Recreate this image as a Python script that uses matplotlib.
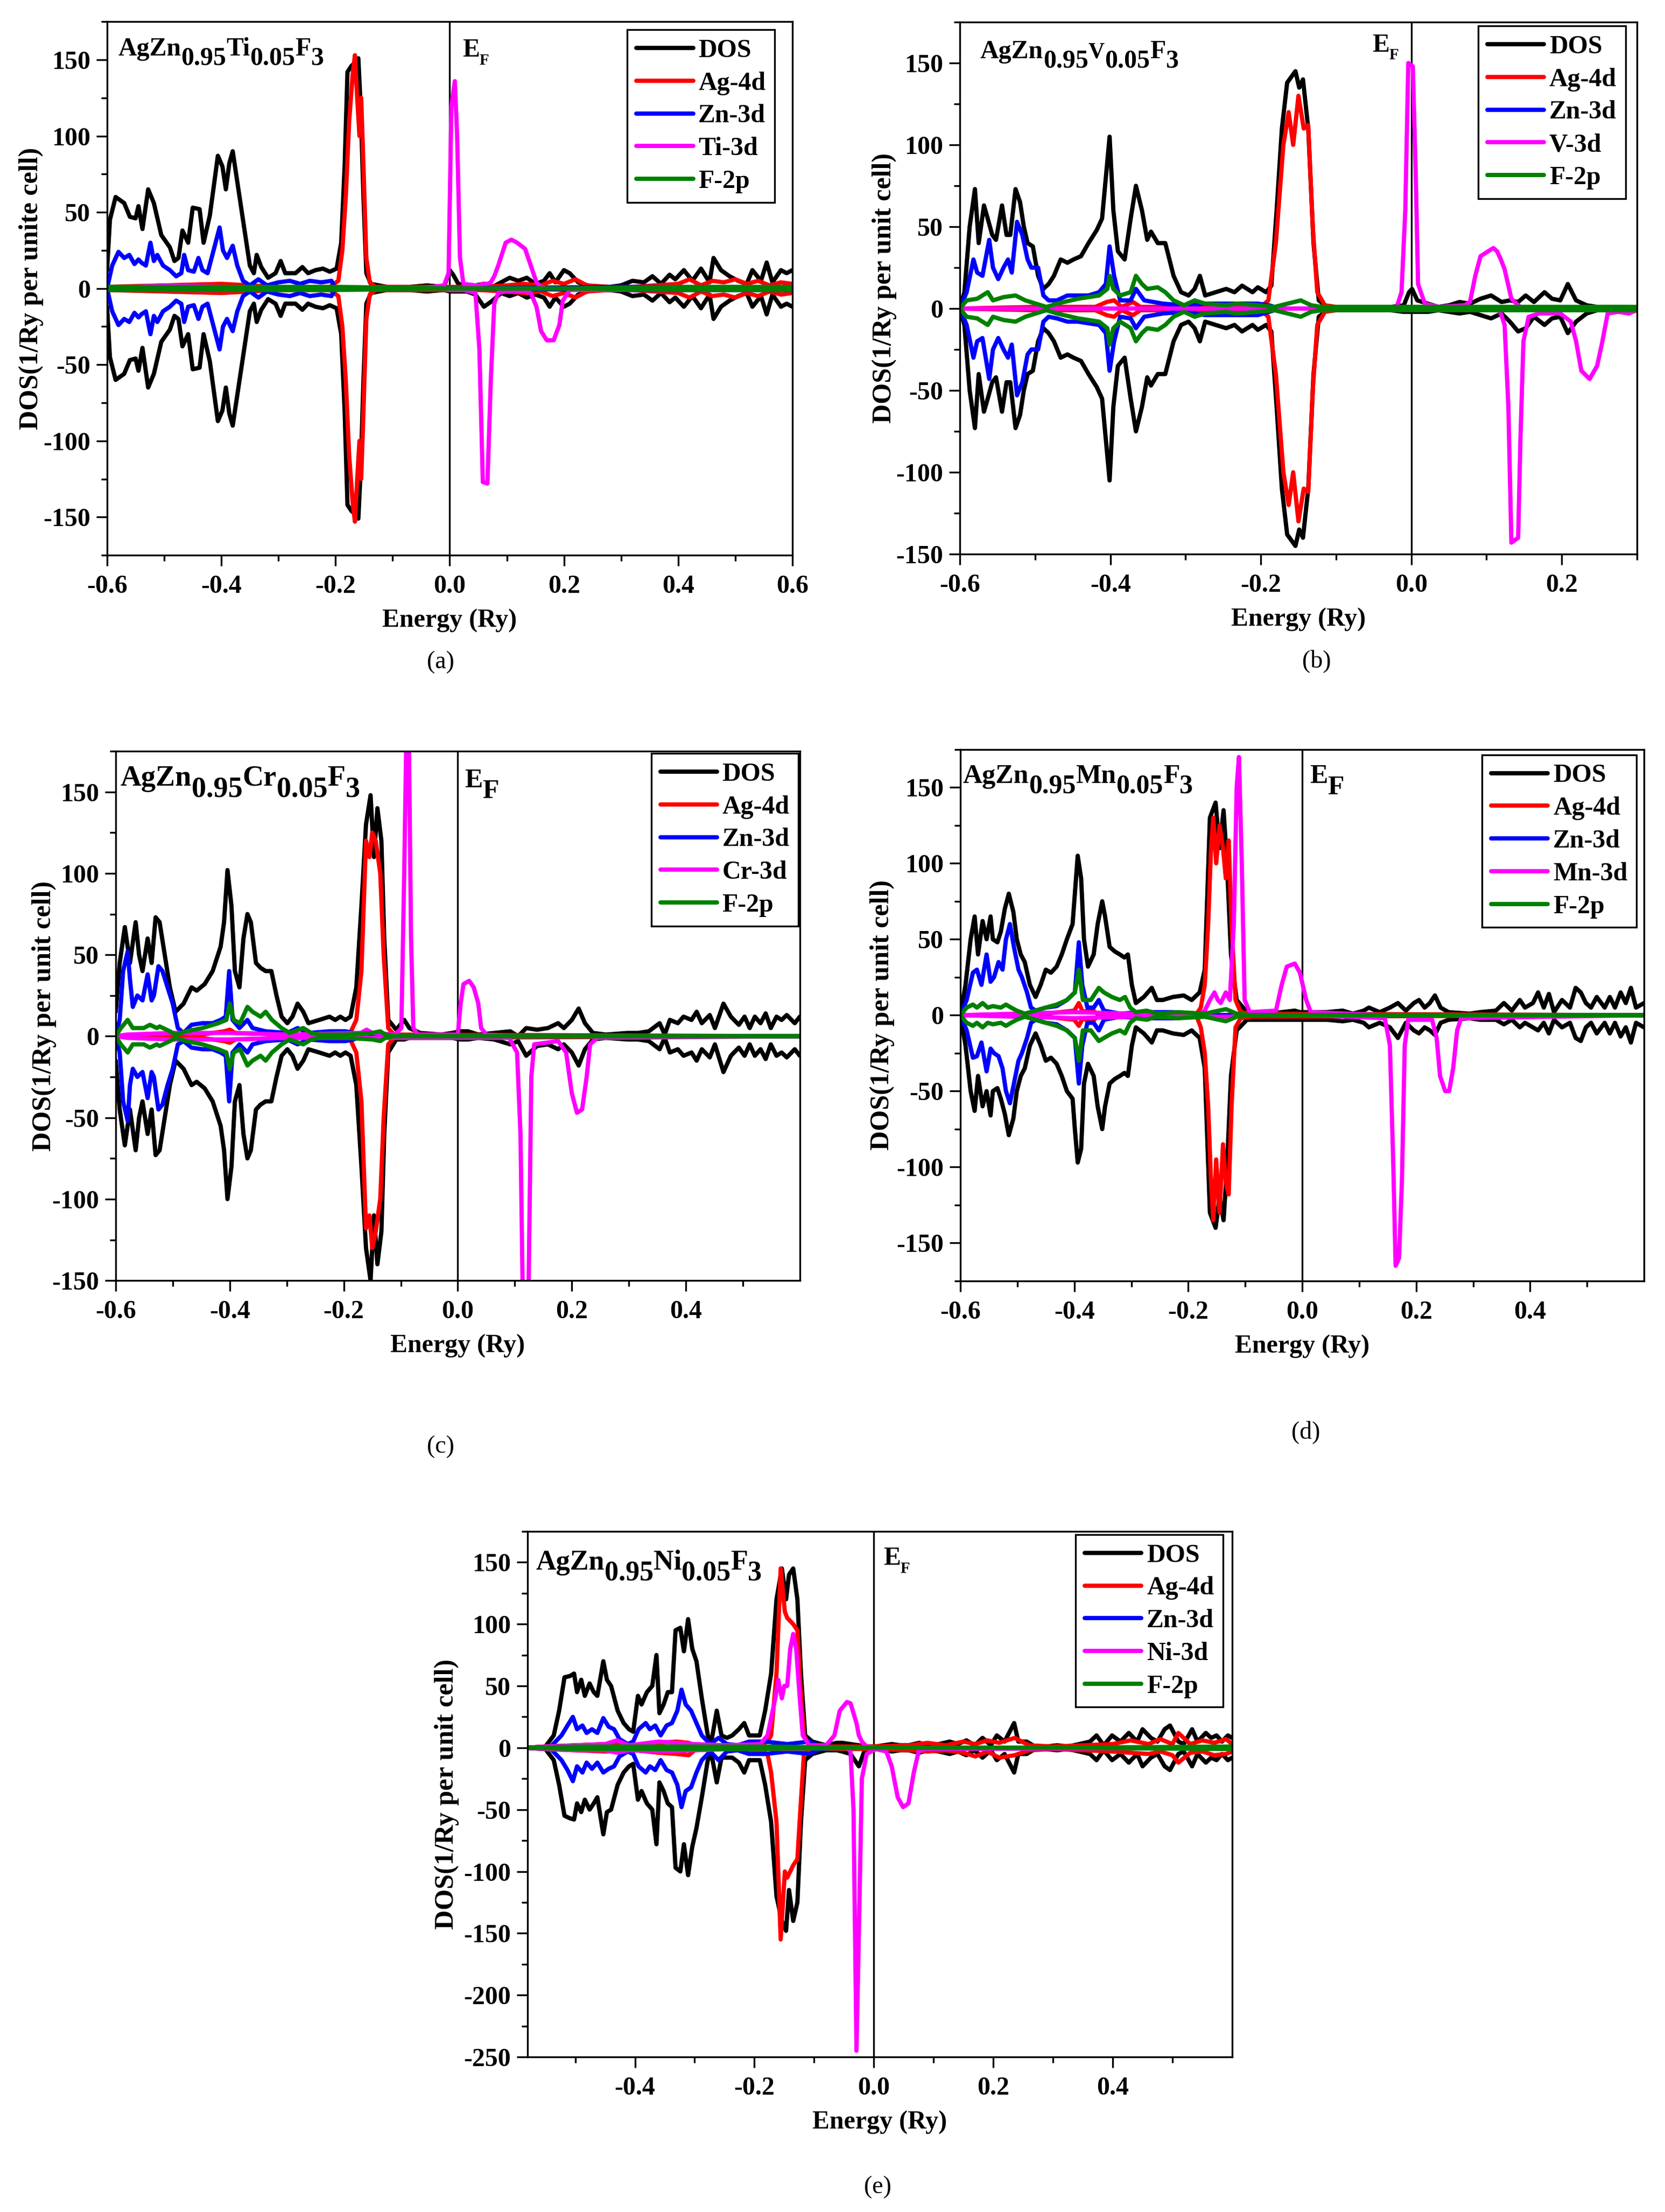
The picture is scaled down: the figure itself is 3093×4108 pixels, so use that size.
import matplotlib
matplotlib.use("Agg")
import matplotlib.pyplot as plt
from matplotlib.ticker import FixedLocator, MultipleLocator, FormatStrFormatter

plt.rcParams["font.family"] = "Liberation Serif"
plt.rcParams["font.weight"] = "bold"
plt.rcParams["axes.labelweight"] = "bold"
plt.rcParams["axes.unicode_minus"] = False

# every curve: (energy in Ry, spin-up DOS, spin-down DOS)

# ---------------- (a) AgZn0.95Ti0.05F3
a_dos = [(-0.600, 12, -12), (-0.595, 45, -45), (-0.585, 60, -60), (-0.570, 56, -56), (-0.560, 47, -47),
         (-0.550, 46, -46), (-0.545, 54, -54), (-0.538, 39, -39), (-0.528, 65, -65), (-0.518, 56, -56),
         (-0.505, 35, -35), (-0.490, 27, -27), (-0.482, 18, -18), (-0.475, 20, -20), (-0.468, 38, -38),
         (-0.458, 30, -30), (-0.450, 53, -53), (-0.438, 52, -52), (-0.431, 30, -30), (-0.420, 48, -48),
         (-0.406, 87, -87), (-0.398, 80, -80), (-0.392, 65, -65), (-0.386, 82, -82), (-0.380, 90, -90),
         (-0.370, 65, -65), (-0.360, 40, -40), (-0.350, 15, -15), (-0.343, 10, -10), (-0.338, 22, -22),
         (-0.330, 14, -14), (-0.318, 7, -7), (-0.305, 10, -10), (-0.296, 18, -18), (-0.288, 10, -10),
         (-0.270, 10, -10), (-0.258, 14, -14), (-0.248, 10, -10), (-0.235, 12, -12), (-0.222, 13, -13),
         (-0.210, 11, -11), (-0.198, 13, -13), (-0.190, 30, -30), (-0.184, 80, -80), (-0.179, 142, -142),
         (-0.172, 146, -146), (-0.166, 148, -148), (-0.160, 151, -151), (-0.156, 120, -120), (-0.151, 60, -60),
         (-0.146, 10, -10), (-0.138, 3, -3), (-0.110, 1, -1), (-0.070, 1, -1), (-0.040, 2, -2),
         (-0.010, 1, -1), (0.000, 12, -2), (0.006, 9, -2), (0.015, 3, -2), (0.030, 2, -2),
         (0.045, 2, -4), (0.060, 3, -12), (0.075, 1, -8), (0.090, 4, -3), (0.105, 7, -5),
         (0.120, 5, -3), (0.135, 7, -6), (0.150, 3, -4), (0.165, 5, -6), (0.175, 10, -12),
         (0.185, 4, -6), (0.200, 12, -12), (0.210, 10, -10), (0.225, 4, -4), (0.250, 1, -1),
         (0.280, 1, -1), (0.300, 2, -2), (0.320, 5, -5), (0.340, 4, -4), (0.355, 8, -8),
         (0.370, 3, -3), (0.385, 9, -9), (0.395, 6, -6), (0.410, 12, -12), (0.425, 5, -5),
         (0.440, 13, -13), (0.455, 4, -4), (0.462, 20, -20), (0.475, 12, -12), (0.490, 8, -8),
         (0.505, 5, -5), (0.520, 3, -3), (0.530, 12, -12), (0.545, 5, -5), (0.555, 17, -17),
         (0.565, 4, -4), (0.580, 12, -12), (0.590, 10, -10), (0.600, 12, -12)]
a_ag = [(-0.600, 1, -1), (-0.500, 2, -2), (-0.400, 3, -3), (-0.300, 1, -1), (-0.210, 1, -1),
        (-0.195, 5, -5), (-0.188, 25, -25), (-0.182, 60, -60), (-0.176, 110, -110), (-0.170, 140, -140),
        (-0.166, 153, -153), (-0.162, 125, -125), (-0.158, 100, -100), (-0.155, 125, -125), (-0.151, 80, -80),
        (-0.146, 20, -20), (-0.140, 4, -4), (-0.130, 1, -1), (-0.050, 1, -1), (0.000, 1, -1),
        (0.050, 1, -1), (0.100, 2, -2), (0.130, 3, -3), (0.160, 2, -2), (0.180, 5, -5),
        (0.200, 3, -3), (0.220, 6, -6), (0.240, 2, -2), (0.280, 1, -1), (0.320, 1, -1),
        (0.360, 2, -2), (0.400, 3, -3), (0.420, 6, -6), (0.440, 2, -2), (0.460, 5, -5),
        (0.480, 4, -4), (0.500, 6, -6), (0.520, 3, -3), (0.540, 5, -5), (0.560, 2, -2),
        (0.580, 4, -4), (0.600, 3, -3)]
a_zn = [(-0.600, 0, 0), (-0.591, 15, -15), (-0.580, 24, -24), (-0.570, 20, -20), (-0.561, 22, -22),
        (-0.552, 16, -16), (-0.545, 19, -19), (-0.540, 17, -17), (-0.532, 15, -15), (-0.524, 30, -30),
        (-0.518, 18, -18), (-0.512, 22, -22), (-0.502, 15, -15), (-0.490, 12, -12), (-0.479, 8, -8),
        (-0.470, 10, -10), (-0.465, 22, -22), (-0.458, 12, -12), (-0.448, 11, -11), (-0.440, 20, -20),
        (-0.433, 12, -12), (-0.424, 10, -10), (-0.410, 30, -30), (-0.403, 40, -40), (-0.397, 25, -25),
        (-0.390, 20, -20), (-0.380, 28, -28), (-0.372, 15, -15), (-0.362, 5, -5), (-0.350, 2, -2),
        (-0.335, 6, -6), (-0.320, 2, -2), (-0.300, 4, -4), (-0.280, 5, -5), (-0.262, 3, -3),
        (-0.245, 5, -5), (-0.225, 4, -4), (-0.207, 5, -5), (-0.200, 0, 0), (-0.150, 0, 0),
        (0.000, 0, 0), (0.300, 1, -1), (0.600, 1, -1)]
a_ti = [(-0.600, 0, 0), (-0.500, 2, -1), (-0.400, 1, -1), (-0.200, 0, 0), (-0.050, 0, 0),
        (-0.010, 2, 0), (-0.002, 10, -1), (0.003, 120, -1), (0.009, 136, -1), (0.013, 100, -1),
        (0.018, 20, -1), (0.024, 3, -1), (0.045, 2, -3), (0.052, 2, -40), (0.058, 3, -127),
        (0.066, 3, -128), (0.072, 4, -60), (0.078, 8, -10), (0.085, 15, -3), (0.098, 30, -2),
        (0.108, 32, -2), (0.118, 30, -2), (0.132, 26, -2), (0.142, 15, -3), (0.152, 4, -12),
        (0.160, 1, -28), (0.170, 0, -34), (0.182, 0, -34), (0.192, 0, -24), (0.198, 0, -8),
        (0.210, 0, -1), (0.600, 0, 0)]
a_f = [(-0.600, 1, -1), (-0.400, 1, -1), (-0.200, 1, -1), (0.000, 0, 0), (0.200, 0, 0),
       (0.400, 1, -1), (0.600, 1, -1)]

# ---------------- (b) AgZn0.95V0.05F3
b_dos = [(-0.600, 0, 0), (-0.594, 10, -10), (-0.587, 50, -50), (-0.580, 73, -73), (-0.575, 40, -40),
         (-0.568, 63, -63), (-0.563, 55, -55), (-0.557, 45, -45), (-0.552, 42, -42), (-0.544, 63, -63),
         (-0.538, 45, -45), (-0.533, 45, -45), (-0.526, 73, -73), (-0.520, 65, -65), (-0.515, 50, -50),
         (-0.510, 40, -40), (-0.503, 38, -38), (-0.496, 20, -20), (-0.489, 12, -12), (-0.482, 15, -15),
         (-0.475, 20, -20), (-0.466, 30, -30), (-0.457, 28, -28), (-0.449, 30, -30), (-0.439, 32, -32),
         (-0.429, 40, -40), (-0.418, 48, -48), (-0.411, 55, -55), (-0.406, 80, -80), (-0.401, 105, -105),
         (-0.396, 60, -60), (-0.390, 35, -35), (-0.381, 30, -30), (-0.373, 55, -55), (-0.366, 75, -75),
         (-0.358, 60, -60), (-0.351, 42, -42), (-0.346, 47, -47), (-0.337, 40, -40), (-0.327, 40, -40),
         (-0.316, 20, -20), (-0.306, 10, -10), (-0.296, 8, -8), (-0.288, 12, -12), (-0.281, 20, -20),
         (-0.274, 8, -8), (-0.260, 10, -10), (-0.246, 12, -12), (-0.235, 10, -10), (-0.225, 14, -14),
         (-0.211, 10, -10), (-0.204, 13, -13), (-0.193, 10, -10), (-0.186, 14, -14), (-0.179, 60, -60),
         (-0.172, 110, -110), (-0.165, 138, -138), (-0.154, 145, -145), (-0.149, 135, -135), (-0.144, 140, -140),
         (-0.137, 110, -110), (-0.130, 40, -40), (-0.123, 5, -5), (-0.112, 1, -1), (-0.063, 0, 0),
         (-0.027, 1, -1), (-0.010, 2, -2), (-0.003, 10, -2), (0.001, 12, -2), (0.008, 5, -2),
         (0.022, 3, -2), (0.036, 1, -1), (0.050, 2, -2), (0.064, 4, -3), (0.078, 3, -2),
         (0.092, 6, -4), (0.106, 8, -6), (0.120, 4, -3), (0.131, 5, -8), (0.142, 4, -14),
         (0.152, 8, -12), (0.163, 4, -5), (0.177, 10, -10), (0.187, 6, -6), (0.198, 5, -5),
         (0.208, 15, -15), (0.219, 5, -8), (0.233, 2, -3), (0.247, 1, -1), (0.268, 1, -1),
         (0.289, 1, -1), (0.300, 0, 0)]
b_ag = [(-0.600, 0, 0), (-0.500, 1, -1), (-0.420, 1, -1), (-0.405, 4, -4), (-0.395, 5, -5),
        (-0.385, 1, -1), (-0.370, 4, -4), (-0.360, 1, -1), (-0.300, 1, -1), (-0.200, 1, -1),
        (-0.190, 5, -5), (-0.180, 40, -40), (-0.170, 100, -100), (-0.163, 120, -120), (-0.157, 100, -100),
        (-0.150, 130, -130), (-0.143, 110, -110), (-0.137, 112, -112), (-0.131, 50, -50), (-0.125, 10, -10),
        (-0.115, 2, -2), (-0.100, 1, -1), (0.000, 1, -1), (0.300, 0, 0)]
b_zn = [(-0.600, 0, 0), (-0.591, 10, -10), (-0.582, 30, -30), (-0.577, 22, -20), (-0.570, 20, -18),
        (-0.561, 42, -43), (-0.556, 25, -25), (-0.549, 18, -18), (-0.542, 25, -25), (-0.536, 30, -30),
        (-0.531, 22, -22), (-0.524, 53, -53), (-0.517, 45, -45), (-0.510, 30, -28), (-0.505, 25, -25),
        (-0.496, 25, -25), (-0.489, 8, -8), (-0.482, 5, -5), (-0.471, 5, -6), (-0.457, 8, -8),
        (-0.443, 8, -8), (-0.429, 8, -9), (-0.415, 10, -10), (-0.406, 15, -15), (-0.401, 38, -38),
        (-0.395, 20, -20), (-0.387, 5, -5), (-0.373, 5, -6), (-0.366, 12, -12), (-0.355, 5, -5),
        (-0.330, 3, -3), (-0.302, 2, -2), (-0.274, 3, -4), (-0.204, 3, -4), (-0.189, 2, -2),
        (-0.175, 0, 0), (0.300, 0, 0)]
b_v = [(-0.600, 0, 0), (-0.300, 0, 0), (-0.020, 0, 0), (-0.013, 10, 0), (-0.008, 60, 0),
       (-0.004, 150, 0), (0.002, 148, 0), (0.006, 80, 0), (0.009, 15, 0), (0.018, 3, 0),
       (0.036, 1, 0), (0.071, 2, 0), (0.078, 4, 0), (0.085, 20, 0), (0.092, 32, 0),
       (0.109, 37, 0), (0.114, 35, 0), (0.119, 30, -3), (0.124, 24, -10), (0.129, 14, -60),
       (0.133, 6, -143), (0.142, 2, -140), (0.145, 1, -80), (0.149, 1, -20), (0.156, 1, -5),
       (0.170, 0, -3), (0.198, 0, -3), (0.212, 0, -8), (0.219, 0, -20), (0.226, 0, -38),
       (0.237, 0, -43), (0.247, 0, -35), (0.254, 0, -20), (0.261, 0, -3), (0.275, 0, -2),
       (0.289, 0, -3), (0.300, 0, -1)]
b_f = [(-0.600, 0, 0), (-0.591, 5, -5), (-0.577, 6, -6), (-0.563, 10, -10), (-0.556, 5, -5),
       (-0.542, 7, -7), (-0.526, 8, -8), (-0.513, 5, -5), (-0.499, 3, -3), (-0.485, 1, -1),
       (-0.471, 3, -3), (-0.443, 6, -6), (-0.415, 8, -8), (-0.404, 12, -12), (-0.401, 20, -22),
       (-0.396, 12, -12), (-0.387, 8, -8), (-0.373, 10, -12), (-0.366, 20, -20), (-0.358, 15, -15),
       (-0.351, 12, -12), (-0.337, 13, -13), (-0.327, 10, -10), (-0.316, 5, -5), (-0.302, 2, -2),
       (-0.288, 5, -5), (-0.274, 3, -3), (-0.246, 2, -2), (-0.232, 3, -3), (-0.204, 2, -2),
       (-0.182, 1, -1), (-0.147, 5, -5), (-0.133, 2, -2), (-0.119, 1, -1), (0.300, 1, -1)]

# ---------------- (c) AgZn0.95Cr0.05F3
c_dos = [(-0.600, 15, -15), (-0.593, 45, -45), (-0.584, 67, -67), (-0.575, 45, -45), (-0.565, 70, -70),
         (-0.559, 50, -50), (-0.553, 40, -40), (-0.544, 60, -60), (-0.537, 45, -45), (-0.530, 73, -73),
         (-0.523, 70, -70), (-0.514, 50, -50), (-0.505, 30, -30), (-0.495, 15, -15), (-0.481, 20, -20),
         (-0.467, 30, -30), (-0.458, 28, -28), (-0.444, 32, -32), (-0.430, 40, -40), (-0.416, 55, -55),
         (-0.410, 70, -70), (-0.404, 102, -100), (-0.397, 80, -80), (-0.391, 40, -40), (-0.383, 30, -30),
         (-0.376, 60, -60), (-0.369, 75, -75), (-0.363, 70, -70), (-0.354, 45, -45), (-0.346, 42, -42),
         (-0.337, 40, -40), (-0.327, 40, -40), (-0.318, 25, -25), (-0.309, 12, -12), (-0.299, 8, -8),
         (-0.290, 12, -12), (-0.281, 20, -20), (-0.271, 15, -15), (-0.262, 8, -8), (-0.243, 10, -10),
         (-0.225, 12, -12), (-0.215, 10, -10), (-0.206, 12, -12), (-0.197, 10, -10), (-0.188, 12, -12),
         (-0.178, 30, -30), (-0.169, 80, -80), (-0.161, 130, -130), (-0.153, 148, -150), (-0.147, 110, -110),
         (-0.141, 140, -140), (-0.134, 120, -120), (-0.129, 60, -60), (-0.122, 10, -10), (-0.108, 4, -2),
         (-0.094, 10, -2), (-0.085, 5, -1), (-0.066, 2, -1), (-0.029, 1, -1), (-0.010, 2, -1),
         (0.004, 3, -2), (0.018, 3, -2), (0.036, 1, -1), (0.064, 2, -2), (0.092, 3, -5),
         (0.106, 0, -3), (0.120, 5, -12), (0.139, 4, -6), (0.158, 5, -5), (0.176, 8, -8),
         (0.186, 5, -5), (0.200, 10, -10), (0.212, 17, -18), (0.223, 8, -8), (0.237, 2, -2),
         (0.260, 1, -1), (0.298, 2, -2), (0.316, 2, -2), (0.335, 3, -3), (0.354, 8, -8),
         (0.363, 1, -1), (0.372, 10, -10), (0.386, 8, -8), (0.396, 12, -12), (0.410, 10, -10),
         (0.419, 15, -15), (0.428, 8, -8), (0.442, 13, -13), (0.451, 5, -5), (0.466, 20, -22),
         (0.479, 12, -12), (0.493, 7, -7), (0.503, 12, -12), (0.512, 5, -5), (0.521, 12, -12),
         (0.531, 8, -8), (0.540, 14, -14), (0.549, 5, -5), (0.559, 12, -12), (0.568, 10, -10),
         (0.577, 13, -13), (0.591, 8, -8), (0.600, 12, -12)]
c_ag = [(-0.600, 0, 0), (-0.450, 1, -1), (-0.410, 3, -3), (-0.400, 4, -4), (-0.390, 2, -2),
        (-0.300, 1, -1), (-0.190, 1, -1), (-0.178, 10, -10), (-0.169, 40, -40), (-0.161, 120, -118),
        (-0.155, 110, -110), (-0.150, 125, -130), (-0.144, 120, -120), (-0.136, 100, -100), (-0.130, 50, -50),
        (-0.122, 5, -5), (-0.112, 1, -1), (0.600, 0, 0)]
c_zn = [(-0.600, 0, 0), (-0.593, 10, -10), (-0.587, 40, -40), (-0.579, 52, -52), (-0.575, 35, -30),
        (-0.570, 18, -20), (-0.562, 25, -25), (-0.553, 22, -22), (-0.544, 38, -38), (-0.537, 22, -22),
        (-0.533, 25, -25), (-0.525, 43, -45), (-0.518, 40, -42), (-0.509, 30, -30), (-0.500, 20, -20),
        (-0.491, 5, -5), (-0.481, 2, -3), (-0.467, 7, -7), (-0.448, 8, -8), (-0.430, 8, -8),
        (-0.416, 10, -10), (-0.407, 12, -12), (-0.401, 40, -40), (-0.395, 10, -10), (-0.383, 5, -5),
        (-0.369, 10, -10), (-0.360, 5, -5), (-0.337, 3, -3), (-0.299, 2, -2), (-0.281, 5, -5),
        (-0.262, 2, -2), (-0.225, 3, -3), (-0.197, 3, -3), (-0.183, 2, -2), (-0.169, 0, 0),
        (0.600, 0, 0)]
c_cr = [(-0.600, 0, 0), (-0.580, 1, -1), (-0.500, 2, -2), (-0.400, 2, -2), (-0.300, 1, -1),
        (-0.170, 2, -1), (-0.160, 4, -1), (-0.150, 2, -1), (-0.110, 1, -1), (-0.099, 5, -1),
        (-0.094, 100, -1), (-0.090, 190, -1), (-0.086, 190, -1), (-0.082, 60, -1), (-0.078, 5, -1),
        (-0.070, 1, -1), (0.000, 1, -1), (0.005, 20, -1), (0.010, 32, -1), (0.020, 34, -1),
        (0.028, 30, -1), (0.036, 20, -1), (0.041, 5, -1), (0.050, 1, -1), (0.090, 0, -1),
        (0.104, 0, -10), (0.110, 0, -60), (0.114, 0, -160), (0.124, 0, -160), (0.129, 0, -25),
        (0.134, 0, -5), (0.176, 0, -3), (0.190, 0, -10), (0.200, 0, -35), (0.209, 0, -47),
        (0.218, 0, -45), (0.226, 0, -25), (0.232, 0, -5), (0.245, 0, -1), (0.600, 0, 0)]
c_f = [(-0.600, 0, 0), (-0.591, 5, -5), (-0.579, 10, -10), (-0.570, 5, -5), (-0.551, 5, -5),
       (-0.540, 7, -7), (-0.528, 5, -5), (-0.523, 6, -6), (-0.505, 3, -3), (-0.495, 1, -1),
       (-0.476, 3, -3), (-0.448, 5, -5), (-0.420, 8, -8), (-0.406, 10, -10), (-0.400, 20, -20),
       (-0.393, 10, -10), (-0.382, 8, -8), (-0.369, 18, -18), (-0.360, 15, -15), (-0.346, 12, -12),
       (-0.337, 15, -15), (-0.326, 10, -10), (-0.309, 5, -5), (-0.295, 2, -2), (-0.271, 5, -5),
       (-0.257, 2, -2), (-0.243, 1, -1), (-0.196, 1, -1), (-0.150, 2, -2), (-0.136, 3, -3),
       (-0.127, 1, -1), (-0.110, 0, 0), (0.600, 0, 0)]

# ---------------- (d) AgZn0.95Mn0.05F3
d_dos = [(-0.600, 0, 0), (-0.591, 20, -20), (-0.582, 50, -50), (-0.575, 65, -63), (-0.569, 40, -40),
         (-0.561, 62, -60), (-0.554, 50, -50), (-0.547, 65, -66), (-0.543, 50, -50), (-0.535, 48, -48),
         (-0.529, 55, -55), (-0.522, 70, -65), (-0.515, 80, -79), (-0.507, 68, -68), (-0.501, 50, -50),
         (-0.494, 40, -40), (-0.487, 35, -35), (-0.478, 20, -20), (-0.468, 12, -12), (-0.459, 20, -20),
         (-0.450, 30, -30), (-0.441, 28, -28), (-0.431, 32, -32), (-0.422, 40, -40), (-0.413, 50, -50),
         (-0.403, 60, -55), (-0.399, 80, -75), (-0.394, 105, -97), (-0.388, 90, -88), (-0.383, 50, -45),
         (-0.376, 32, -32), (-0.366, 40, -40), (-0.359, 60, -60), (-0.351, 75, -75), (-0.346, 65, -60),
         (-0.338, 45, -45), (-0.329, 42, -42), (-0.320, 40, -40), (-0.312, 38, -38), (-0.306, 40, -40),
         (-0.299, 20, -20), (-0.292, 8, -8), (-0.278, 12, -12), (-0.264, 18, -18), (-0.255, 10, -10),
         (-0.245, 10, -10), (-0.227, 12, -12), (-0.208, 13, -13), (-0.194, 10, -10), (-0.180, 15, -15),
         (-0.171, 30, -35), (-0.162, 130, -130), (-0.152, 140, -140), (-0.145, 110, -120), (-0.138, 135, -135),
         (-0.132, 100, -100), (-0.125, 40, -40), (-0.115, 10, -10), (-0.097, 2, -3), (-0.059, 1, -3),
         (-0.013, 3, -3), (-0.004, 2, -3), (0.015, 2, -3), (0.043, 2, -3), (0.071, 3, -4),
         (0.089, 1, -3), (0.108, 3, -5), (0.117, 5, -8), (0.136, 2, -5), (0.154, 5, -8),
         (0.168, 8, -15), (0.182, 3, -5), (0.196, 8, -10), (0.205, 10, -12), (0.215, 5, -8),
         (0.224, 8, -10), (0.233, 13, -13), (0.243, 5, -5), (0.257, 2, -3), (0.294, 1, -2),
         (0.312, 2, -3), (0.340, 3, -3), (0.354, 8, -6), (0.368, 3, -3), (0.382, 10, -8),
         (0.391, 5, -5), (0.405, 8, -8), (0.414, 15, -10), (0.424, 5, -5), (0.433, 14, -12),
         (0.442, 2, -3), (0.456, 10, -8), (0.470, 5, -5), (0.480, 18, -15), (0.489, 15, -17),
         (0.498, 8, -8), (0.507, 5, -5), (0.517, 12, -12), (0.531, 5, -5), (0.540, 12, -12),
         (0.549, 5, -5), (0.559, 15, -14), (0.568, 8, -8), (0.577, 18, -18), (0.586, 5, -5),
         (0.600, 8, -8)]
d_ag = [(-0.600, 0, 0), (-0.450, 1, -1), (-0.400, 3, -3), (-0.392, 8, -7), (-0.385, 2, -2),
        (-0.370, 4, -5), (-0.360, 1, -1), (-0.250, 1, -1), (-0.185, 1, -1), (-0.178, 5, -8),
        (-0.171, 20, -25), (-0.165, 60, -60), (-0.160, 110, -110), (-0.156, 130, -135), (-0.151, 100, -95),
        (-0.145, 125, -130), (-0.139, 110, -85), (-0.134, 90, -110), (-0.129, 115, -118), (-0.124, 60, -60),
        (-0.117, 10, -8), (-0.108, 2, -2), (-0.090, 1, -1), (0.600, 0, 0)]
d_zn = [(-0.600, 0, 0), (-0.589, 10, -10), (-0.578, 28, -28), (-0.571, 30, -27), (-0.563, 20, -18),
        (-0.554, 40, -37), (-0.547, 22, -22), (-0.541, 25, -25), (-0.533, 35, -27), (-0.526, 30, -35),
        (-0.520, 50, -50), (-0.513, 60, -58), (-0.506, 45, -45), (-0.498, 30, -30), (-0.492, 25, -25),
        (-0.483, 15, -15), (-0.476, 5, -5), (-0.468, 3, -3), (-0.450, 5, -5), (-0.431, 6, -6),
        (-0.413, 10, -10), (-0.399, 15, -15), (-0.392, 48, -45), (-0.386, 20, -20), (-0.377, 5, -5),
        (-0.366, 5, -5), (-0.357, 10, -10), (-0.348, 3, -3), (-0.320, 1, -1), (-0.283, 2, -2),
        (-0.227, 2, -2), (-0.190, 1, -1), (-0.171, 0, 0), (0.600, 0, 0)]
d_mn = [(-0.600, 0, 0), (-0.500, 1, -1), (-0.400, 2, -2), (-0.300, 1, -1), (-0.180, 1, -1),
        (-0.171, 3, -1), (-0.162, 10, -1), (-0.154, 15, -1), (-0.148, 10, -1), (-0.143, 8, -1),
        (-0.134, 15, -1), (-0.127, 10, -1), (-0.120, 60, -1), (-0.115, 150, 0), (-0.111, 170, 0),
        (-0.106, 100, 0), (-0.101, 10, 0), (-0.092, 2, 0), (-0.046, 3, 0), (-0.036, 20, 0),
        (-0.027, 32, 0), (-0.013, 34, 0), (-0.004, 28, 0), (0.007, 10, 0), (0.015, 2, 0),
        (0.145, 0, -2), (0.154, 0, -20), (0.160, 0, -100), (0.164, 0, -165), (0.170, 0, -160),
        (0.175, 0, -110), (0.180, 0, -20), (0.186, 0, -3), (0.228, 0, -3), (0.236, 0, -15),
        (0.242, 0, -40), (0.251, 0, -50), (0.258, 0, -50), (0.265, 0, -35), (0.272, 0, -10),
        (0.279, 0, -2), (0.600, 0, 0)]
d_f = [(-0.600, 0, 0), (-0.589, 5, -5), (-0.578, 7, -7), (-0.571, 5, -5), (-0.561, 8, -8),
       (-0.552, 5, -5), (-0.543, 6, -6), (-0.529, 5, -5), (-0.520, 7, -7), (-0.511, 5, -5),
       (-0.501, 3, -3), (-0.487, 1, -1), (-0.468, 3, -3), (-0.450, 5, -5), (-0.431, 7, -7),
       (-0.413, 10, -10), (-0.399, 15, -15), (-0.392, 30, -30), (-0.385, 10, -10), (-0.371, 10, -10),
       (-0.357, 18, -17), (-0.348, 15, -15), (-0.334, 12, -12), (-0.320, 10, -10), (-0.311, 12, -12),
       (-0.302, 5, -5), (-0.292, 2, -2), (-0.273, 3, -3), (-0.255, 1, -1), (-0.218, 2, -2),
       (-0.171, 1, -1), (-0.134, 4, -4), (-0.115, 1, -1), (-0.090, 0, 0), (0.600, 0, 0)]

# ---------------- (e) AgZn0.95Ni0.05F3
e_dos = [(-0.582, 0, 0), (-0.550, 1, -1), (-0.536, 10, -10), (-0.527, 30, -30), (-0.518, 57, -55),
         (-0.509, 58, -57), (-0.502, 60, -58), (-0.497, 45, -45), (-0.490, 55, -52), (-0.484, 42, -42),
         (-0.476, 52, -50), (-0.469, 45, -45), (-0.463, 42, -40), (-0.453, 70, -70), (-0.447, 55, -52),
         (-0.440, 50, -50), (-0.429, 30, -30), (-0.419, 20, -20), (-0.410, 15, -15), (-0.403, 13, -13),
         (-0.395, 42, -42), (-0.389, 35, -35), (-0.380, 45, -45), (-0.371, 50, -50), (-0.364, 75, -78),
         (-0.359, 28, -28), (-0.352, 35, -35), (-0.345, 45, -45), (-0.338, 45, -48), (-0.332, 95, -97),
         (-0.324, 97, -100), (-0.318, 78, -78), (-0.311, 104, -103), (-0.304, 80, -80), (-0.297, 70, -65),
         (-0.288, 40, -40), (-0.278, 10, -10), (-0.272, 5, -5), (-0.263, 30, -28), (-0.255, 10, -8),
         (-0.246, 8, -8), (-0.237, 10, -8), (-0.226, 15, -12), (-0.217, 20, -20), (-0.209, 10, -10),
         (-0.200, 10, -10), (-0.191, 10, -10), (-0.182, 30, -30), (-0.172, 60, -60), (-0.163, 120, -120),
         (-0.154, 145, -140), (-0.147, 120, -148), (-0.142, 140, -115), (-0.135, 145, -140), (-0.128, 120, -125),
         (-0.122, 60, -60), (-0.115, 10, -10), (-0.103, 5, -5), (-0.080, 2, -2), (-0.062, 4, -2),
         (-0.053, 4, -3), (-0.039, 3, -5), (-0.025, 2, -15), (-0.016, 1, -3), (0.003, 1, -1),
         (0.030, 3, -3), (0.044, 2, -2), (0.058, 2, -2), (0.076, 4, -4), (0.090, 2, -2),
         (0.109, 3, -3), (0.127, 5, -5), (0.141, 3, -3), (0.155, 6, -6), (0.169, 2, -2),
         (0.182, 8, -8), (0.196, 2, -2), (0.206, 10, -10), (0.219, 5, -5), (0.235, 20, -20),
         (0.242, 5, -5), (0.256, 5, -5), (0.270, 1, -1), (0.288, 1, -1), (0.307, 2, -2),
         (0.325, 1, -1), (0.344, 3, -3), (0.362, 5, -5), (0.373, 10, -10), (0.385, 2, -2),
         (0.399, 10, -10), (0.413, 5, -5), (0.427, 12, -12), (0.441, 5, -5), (0.450, 15, -15),
         (0.464, 8, -8), (0.475, 5, -5), (0.487, 15, -15), (0.496, 18, -18), (0.510, 5, -5),
         (0.519, 3, -3), (0.533, 15, -15), (0.542, 5, -5), (0.556, 12, -12), (0.565, 8, -8),
         (0.574, 10, -10), (0.583, 5, -5), (0.593, 10, -10), (0.600, 8, -8)]
e_ag = [(-0.582, 0, 0), (-0.550, 1, -1), (-0.500, 2, -2), (-0.450, 3, -3), (-0.400, 2, -2),
        (-0.360, 4, -4), (-0.330, 5, -5), (-0.310, 4, -6), (-0.300, 2, -2), (-0.250, 1, -1),
        (-0.190, 2, -2), (-0.178, 5, -5), (-0.172, 10, -20), (-0.163, 60, -60), (-0.156, 145, -155),
        (-0.149, 110, -100), (-0.145, 105, -105), (-0.135, 100, -95), (-0.128, 95, -90), (-0.123, 50, -50),
        (-0.117, 10, -5), (-0.108, 1, -1), (0.000, 1, -1), (0.060, 2, -2), (0.090, 4, -3),
        (0.120, 2, -2), (0.150, 5, -4), (0.170, 3, -7), (0.190, 6, -3), (0.210, 4, -8),
        (0.236, 8, -6), (0.260, 2, -2), (0.300, 1, -1), (0.350, 2, -2), (0.400, 3, -3),
        (0.430, 6, -4), (0.460, 3, -5), (0.480, 7, -3), (0.500, 3, -6), (0.510, 12, -12),
        (0.530, 3, -4), (0.550, 6, -3), (0.570, 4, -6), (0.590, 7, -5), (0.600, 3, -3)]
e_zn = [(-0.582, 0, 0), (-0.541, 1, -1), (-0.523, 10, -10), (-0.513, 18, -18), (-0.504, 25, -27),
        (-0.497, 15, -15), (-0.488, 18, -20), (-0.481, 12, -12), (-0.472, 15, -17), (-0.463, 12, -12),
        (-0.453, 24, -20), (-0.444, 17, -17), (-0.435, 15, -15), (-0.426, 7, -7), (-0.412, 3, -3),
        (-0.403, 5, -5), (-0.394, 15, -15), (-0.382, 20, -20), (-0.375, 15, -15), (-0.366, 18, -18),
        (-0.357, 10, -10), (-0.347, 18, -18), (-0.338, 20, -20), (-0.329, 30, -30), (-0.322, 47, -48),
        (-0.315, 35, -35), (-0.306, 30, -32), (-0.297, 20, -20), (-0.288, 10, -10), (-0.274, 3, -3),
        (-0.260, 8, -10), (-0.246, 3, -3), (-0.228, 2, -2), (-0.209, 5, -5), (-0.182, 5, -5),
        (-0.145, 3, -3), (-0.108, 5, -5), (-0.090, 1, -1), (-0.053, 0, 0), (0.600, 0, 0)]
e_ni = [(-0.582, 0, 0), (-0.550, 1, -1), (-0.500, 2, -2), (-0.450, 3, -2), (-0.430, 6, -4),
        (-0.410, 2, -2), (-0.360, 5, -3), (-0.300, 3, -2), (-0.250, 2, -1), (-0.190, 3, -1),
        (-0.178, 10, -1), (-0.165, 40, -1), (-0.160, 55, -1), (-0.154, 40, -1), (-0.150, 50, -1),
        (-0.145, 50, -1), (-0.140, 80, -1), (-0.135, 92, -1), (-0.130, 80, -1), (-0.124, 40, -1),
        (-0.119, 10, -1), (-0.108, 2, 0), (-0.080, 2, 0), (-0.066, 10, 0), (-0.057, 30, 0),
        (-0.045, 37, 0), (-0.039, 36, -3), (-0.034, 28, -50), (-0.029, 20, -245), (-0.025, 10, -150),
        (-0.020, 5, -25), (-0.012, 1, -5), (0.003, 0, -1), (0.021, 0, -3), (0.030, 0, -15),
        (0.040, 0, -40), (0.049, 0, -48), (0.058, 0, -45), (0.067, 0, -20), (0.075, 0, -3),
        (0.086, 0, -1), (0.600, 0, 0)]
e_f = [(-0.582, 0, 0), (-0.500, 1, -1), (-0.400, 1, -1), (-0.300, 1, -1), (-0.200, 1, -1),
       (0.000, 0, 0), (0.300, 0, 0), (0.600, 1, -1)]

legend_a = ["DOS", "Ag-4d", "Zn-3d", "Ti-3d", "F-2p"]
legend_b = ["DOS", "Ag-4d", "Zn-3d", "V-3d", "F-2p"]
legend_c = ["DOS", "Ag-4d", "Zn-3d", "Cr-3d", "F-2p"]
legend_d = ["DOS", "Ag-4d", "Zn-3d", "Mn-3d", "F-2p"]
legend_e = ["DOS", "Ag-4d", "Zn-3d", "Ni-3d", "F-2p"]

colors = ["black", "#ff0000", "#0000ff", "#ff00ff", "#008000"]
LW = 1.9
W, H = 3093, 4108


def draw(ax, curves, names):
    for data, c, name in zip(curves, colors, names):
        e = [p[0] for p in data]
        ax.plot(e, [p[1] for p in data], color=c, lw=LW, label=name, solid_capstyle="round")
        ax.plot(e, [p[2] for p in data], color=c, lw=LW, solid_capstyle="round")


def chem(ax, x, y, parts):
    # chain of text pieces: (text, fontsize, vertical shift in points)
    prev = ax.text(x, y, parts[0][0], fontsize=parts[0][1], va="baseline", ha="left", zorder=6)
    for s, size, dy in parts[1:]:
        prev = ax.annotate(s, xy=(1, y), xycoords=(prev, "data"), xytext=(0, dy),
                           textcoords="offset points", fontsize=size, va="baseline", ha="left", zorder=6)


def frame(ax, xlim, ylim, xmaj, xmin, ylab, yoff, anchor):
    ax.set_xlim(xlim)
    ax.set_ylim(ylim)
    ax.xaxis.set_major_locator(FixedLocator(xmaj))
    ax.xaxis.set_minor_locator(FixedLocator(xmin))
    ax.xaxis.set_major_formatter(FormatStrFormatter("%.1f"))
    ax.yaxis.set_major_locator(MultipleLocator(50))
    ax.yaxis.set_minor_locator(MultipleLocator(25))
    ax.tick_params(which="both", direction="out", top=False, right=False, width=0.8, labelsize=11.5)
    ax.tick_params(which="major", length=4.8)
    ax.tick_params(which="minor", length=2.7)
    ax.tick_params(axis="x", pad=3.8)
    ax.tick_params(axis="y", pad=2.6)
    for s in ax.spines.values():
        s.set_linewidth(0.8)
    ax.axvline(0, color="black", lw=0.8, zorder=1)
    pos = ax.get_position()
    ax.set_xlabel("Energy (Ry)", fontsize=11.5)
    ax.set_ylabel(ylab, fontsize=12)
    ax.xaxis.set_label_coords(0.5, -100 / (pos.height * H))
    ax.yaxis.set_label_coords(-yoff / (pos.width * W), 0.5)
    leg = ax.legend(loc="upper right", bbox_to_anchor=anchor, borderaxespad=0, fontsize=11.5,
                    fancybox=False, edgecolor="black", framealpha=1, handlelength=2.2,
                    handletextpad=0.2, labelspacing=0.35, borderpad=0.35)
    leg.get_frame().set_linewidth(0.8)


fig = plt.figure(figsize=(W / 300, H / 300), dpi=300)

ax_a = fig.add_axes([0.0643, 0.7490, 0.4116, 0.2412])
ax_b = fig.add_axes([0.5765, 0.7495, 0.4067, 0.2405])
ax_c = fig.add_axes([0.0695, 0.4211, 0.4109, 0.2393])
ax_d = fig.add_axes([0.5768, 0.4209, 0.4106, 0.2403])
ax_e = fig.add_axes([0.3168, 0.0701, 0.4232, 0.2376])

draw(ax_a, [a_dos, a_ag, a_zn, a_ti, a_f], legend_a)
draw(ax_b, [b_dos, b_ag, b_zn, b_v, b_f], legend_b)
draw(ax_c, [c_dos, c_ag, c_zn, c_cr, c_f], legend_c)
draw(ax_d, [d_dos, d_ag, d_zn, d_mn, d_f], legend_d)
draw(ax_e, [e_dos, e_ag, e_zn, e_ni, e_f], legend_e)

full = [-0.6, -0.4, -0.2, 0.0, 0.2, 0.4, 0.6]
odd = [-0.5, -0.3, -0.1, 0.1, 0.3, 0.5]
frame(ax_a, (-0.6, 0.6), (-175, 175), full, odd, "DOS(1/Ry per unite cell)", 118, (0.974, 0.985))
frame(ax_b, (-0.6, 0.3), (-150, 175), full[:5], odd[:5], "DOS(1/Ry per unit cell)", 117, (0.983, 0.993))
frame(ax_c, (-0.6, 0.6), (-150, 175), full[:6], odd, "DOS(1/Ry per unit cell)", 110, (0.998, 0.996))
frame(ax_d, (-0.6, 0.6), (-175, 175), full[:6], odd, "DOS(1/Ry per unit cell)", 122, (0.989, 0.99))
frame(ax_e, (-0.58, 0.6), (-250, 175), full[1:6], odd, "DOS(1/Ry per unit cell)", 127, (0.987, 0.994))

# compound names
def sub(fs):
    return -0.38 * fs

chem(ax_a, -0.581, 153, [("AgZn", 11.5, 0), ("0.95", 11.5, sub(11.5)), ("Ti", 11.5, 0),
                         ("0.05", 11.5, sub(11.5)), ("F", 11.5, 0), ("3", 11.5, sub(11.5))])
chem(ax_b, -0.573, 153, [("AgZn", 11.5, 0), ("0.95", 11.5, sub(11.5)), ("V", 10, 0),
                         ("0.05", 11.5, sub(11.5)), ("F", 11.5, 0), ("3", 11.5, sub(11.5))])
chem(ax_c, -0.592, 154, [("AgZn", 13, 0), ("0.95", 13, sub(13)), ("Cr", 13, 0),
                         ("0.05", 13, sub(13)), ("F", 13, 0), ("3", 13, sub(13))])
chem(ax_d, -0.596, 153, [("AgZn", 12, 0), ("0.95", 12, sub(12)), ("Mn", 12, 0),
                         ("0.05", 12, sub(12)), ("F", 12, 0), ("3", 12, sub(12))])
chem(ax_e, -0.566, 144, [("AgZn", 12.5, 0), ("0.95", 12.5, sub(12.5)), ("Ni", 12.5, 0),
                         ("0.05", 12.5, sub(12.5)), ("F", 12.5, 0), ("3", 12.5, sub(12.5))])

# Fermi level labels
chem(ax_a, 0.022, 152, [("E", 11.5, 0), ("F", 7, -3.5)])
chem(ax_b, -0.052, 157, [("E", 11.5, 0), ("F", 7, -3.5)])
chem(ax_c, 0.012, 153, [("E", 12, 0), ("F", 12, -5)])
chem(ax_d, 0.013, 153, [("E", 12, 0), ("F", 12, -5)])
chem(ax_e, 0.016, 148, [("E", 11.5, 0), ("F", 7, -3.5)])

for lab, x, y in [("(a)", 0.2645, 0.7006), ("(b)", 0.7908, 0.7011), ("(c)", 0.2645, 0.3459),
                  ("(d)", 0.7844, 0.3527), ("(e)", 0.5270, 0.0112)]:
    fig.text(x, y, lab, ha="center", va="center", fontsize=11, fontweight="normal")

fig.savefig("out.png", dpi=300)
